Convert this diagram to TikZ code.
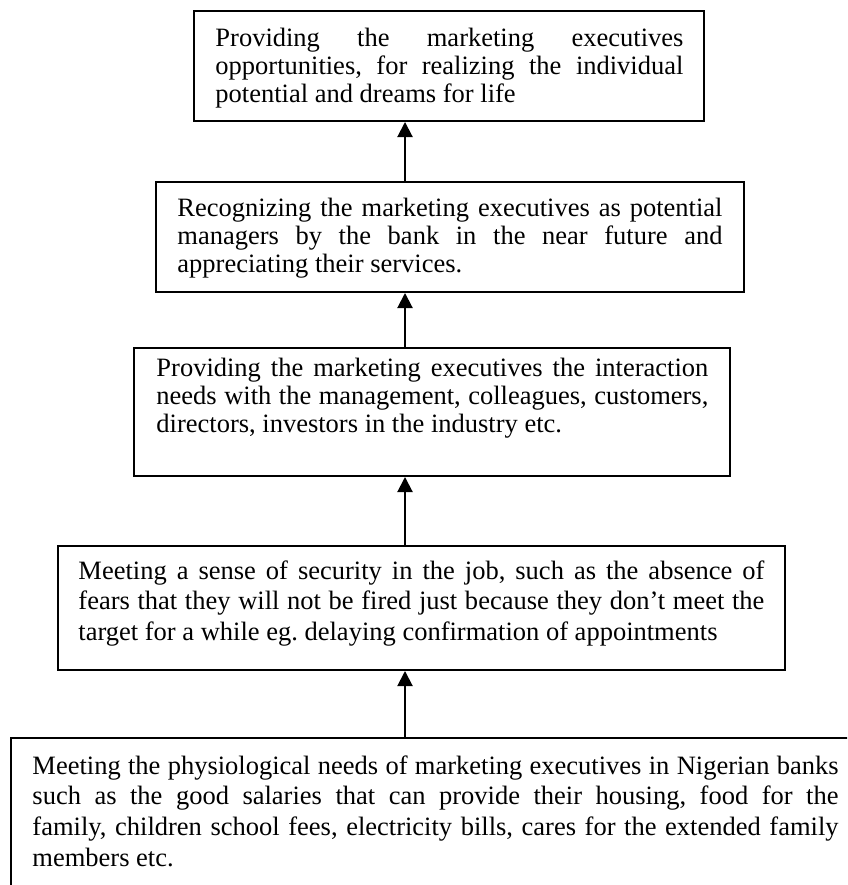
\documentclass[tikz,border=0pt]{standalone}
\usepackage{fontspec}
\setmainfont{Liberation Serif}
\usetikzlibrary{arrows.meta,fit}
\hbadness=10000
\frenchspacing
\tikzset{
  box/.style={draw, line width=0.9pt, inner sep=0pt},
  txt/.style={anchor=north west, inner sep=0pt, align=justify, font=\fontsize{12}{12.7}\selectfont},
  txtb/.style={txt, font=\fontsize{12}{13.9}\selectfont},
  arr/.style={line width=0.9pt, -{Triangle[width=6.8pt,length=6.8pt]}},
}
\begin{document}
\begin{tikzpicture}[x=0.4528pt,y=-0.4528pt]
\useasboundingbox (0,0) rectangle (847,885);
\clip (0,0) rectangle (847,885);
\fill[white] (0,0) rectangle (847,885);
% boxes
\node[box, fit={(194,11)(704,121)}] (b1) {};
\node[box, fit={(156,182)(744,292)}] (b2) {};
\node[box, fit={(134,348)(730,476)}] (b3) {};
\node[box, fit={(58,546)(785,670)}] (b4) {};
\node[box, fit={(11,738)(880,920)}] (b5) {};
% texts
\node[txt, text width=211.9pt] (t1) at (215,28)
 {Providing the marketing executives\linebreak opportunities, for realizing the individual\linebreak potential and dreams for life};
\node[txt, text width=246.8pt] (t2) at (177,198)
 {Recognizing the marketing executives as potential\linebreak managers by the bank in the near future and\linebreak appreciating their services.};
\node[txt, text width=249.9pt] (t3) at (156,358)
 {Providing the marketing executives the interaction\linebreak needs with the management, colleagues, customers,\linebreak directors, investors in the industry etc.};
\node[txtb, text width=310.6pt] (t4) at (78,560)
 {Meeting a sense of security in the job, such as the absence of\linebreak fears that they will not be fired just because they don’t meet the\linebreak target for a while eg. delaying confirmation of appointments};
\node[txtb, text width=365.0pt] (t5) at (32,755)
 {Meeting the physiological needs of marketing executives in Nigerian banks\linebreak such as the good salaries that can provide their housing, food for the\linebreak family, children school fees, electricity bills, cares for the extended family\linebreak members etc.};
% arrows
\coordinate (ax) at (405,0);
\draw[arr] (b2.north -| ax) -- (b1.south -| ax);
\draw[arr] (b3.north -| ax) -- (b2.south -| ax);
\draw[arr] (b4.north -| ax) -- (b3.south -| ax);
\draw[arr] (b5.north -| ax) -- (b4.south -| ax);
\end{tikzpicture}
\end{document}
